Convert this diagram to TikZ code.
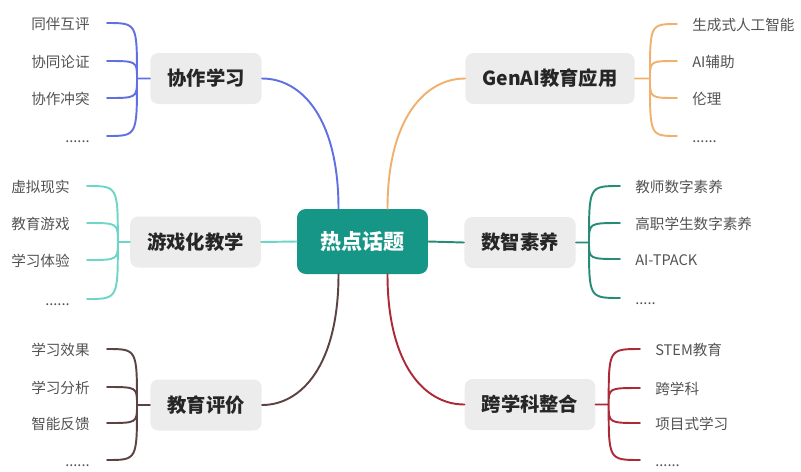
\documentclass[tikz,border=0pt]{standalone}
\usepackage{fontspec}
\setmainfont{Noto Sans CJK SC}
\usepackage{tikz}
\usetikzlibrary{positioning, calc}
\definecolor{hubteal}{RGB}{22,150,135}
\definecolor{boxgray}{RGB}{236,236,236}
\definecolor{lnblue}{RGB}{96,112,226}
\definecolor{lnorange}{RGB}{240,176,110}
\definecolor{lnmint}{RGB}{110,214,198}
\definecolor{lnteal}{RGB}{38,140,120}
\definecolor{lnbrown}{RGB}{92,66,66}
\definecolor{lnred}{RGB}{172,42,56}
\tikzset{
  hub/.style={rectangle, rounded corners=5pt, fill=hubteal, text=white,
              minimum width=2.62cm, minimum height=1.3cm, font=\fontsize{12}{14}\selectfont\bfseries},
  topic/.style={rectangle, rounded corners=4.5pt, fill=boxgray, text=black!85,
                inner xsep=0.34cm, minimum height=1.02cm, font=\fontsize{11}{13}\selectfont\bfseries},
  leafl/.style={anchor=east, inner ysep=0pt, inner xsep=0.34cm, text=black!68,
                text height=0.88em, text depth=0.12em, font=\fontsize{8.3}{10}\selectfont},
  leafr/.style={leafl, anchor=west, inner xsep=0.3cm},
  link/.style={line width=1.1pt, line cap=round},
}

\begin{document}
\begin{tikzpicture}[x=0.02cm, y=-0.02cm]
  \useasboundingbox (0,0) rectangle (801,471);
  \node[hub]   (hub)   at (362.5,241.5) {热点话题};
  \node[topic] (coop)  at (206,78.5)    {协作学习};
  \node[topic] (genai) at (550,78.5)    {GenAI教育应用};
  \node[topic] (game)  at (195.5,242)   {游戏化教学};
  \node[topic] (digi)  at (520,242.5)   {数智素养};
  \node[topic] (eval)  at (206,405)     {教育评价};
  \node[topic] (cross) at (530,404.5)   {跨学科整合};

  % main branches
  \draw[link, lnblue]   ($(hub.north)+(-24,0)$) .. controls +(0,-90) and +(40,0) .. (coop.east);
  \draw[link, lnorange] ($(hub.north)+(25,0)$)  .. controls +(0,-90) and +(-40,0) .. (genai.west);
  \draw[link, lnbrown]  ($(hub.south)+(-24,0)$) .. controls +(0,90) and +(40,0) .. (eval.east);
  \draw[link, lnred]    ($(hub.south)+(25,0)$)  .. controls +(0,90) and +(-40,0) .. (cross.west);
  \draw[link, lnmint]   (hub.west) -- (game.east);
  \draw[link, lnteal]   (hub.east) -- (digi.west);

  % 协作学习
  \coordinate (coopj) at ($(coop.west)+(-13,0)$);
  \node[leafl] (coop1) at (107,23)  {同伴互评};
  \node[leafl] (coop2) at (107,61)  {协同论证};
  \node[leafl] (coop3) at (107,98)  {协作冲突};
  \node[leafl] (coop4) at (107,136) {......};
  \draw[link, lnblue] (coop.west) -- (coopj)
    (coopj) .. controls (coopj |- coop1) .. (coop1.east)
    (coopj) .. controls (coopj |- coop2) .. (coop2.east)
    (coopj) .. controls (coopj |- coop3) .. (coop3.east)
    (coopj) .. controls (coopj |- coop4) .. (coop4.east);

  % GenAI教育应用
  \coordinate (genaij) at ($(genai.east)+(15,0)$);
  \node[leafr] (genai1) at (677,24)  {生成式人工智能};
  \node[leafr] (genai2) at (677,61)  {AI辅助};
  \node[leafr] (genai3) at (677,98)  {伦理};
  \node[leafr] (genai4) at (677,136) {......};
  \draw[link, lnorange] (genai.east) -- (genaij)
    (genaij) .. controls (genaij |- genai1) .. (genai1.west)
    (genaij) .. controls (genaij |- genai2) .. (genai2.west)
    (genaij) .. controls (genaij |- genai3) .. (genai3.west)
    (genaij) .. controls (genaij |- genai4) .. (genai4.west);

  % 游戏化教学
  \coordinate (gamej) at ($(game.west)+(-12,0)$);
  \node[leafl] (game1) at (87,186) {虚拟现实};
  \node[leafl] (game2) at (87,223) {教育游戏};
  \node[leafl] (game3) at (87,260) {学习体验};
  \node[leafl] (game4) at (87,299) {......};
  \draw[link, lnmint] (game.west) -- (gamej)
    (gamej) .. controls (gamej |- game1) .. (game1.east)
    (gamej) .. controls (gamej |- game2) .. (game2.east)
    (gamej) .. controls (gamej |- game3) .. (game3.east)
    (gamej) .. controls (gamej |- game4) .. (game4.east);

  % 数智素养
  \coordinate (digij) at ($(digi.east)+(13,0)$);
  \node[leafr] (digi1) at (620,186) {教师数字素养};
  \node[leafr] (digi2) at (620,223) {高职学生数字素养};
  \node[leafr] (digi3) at (620,259) {AI-TPACK};
  \node[leafr] (digi4) at (620,298) {.....};
  \draw[link, lnteal] (digi.east) -- (digij)
    (digij) .. controls (digij |- digi1) .. (digi1.west)
    (digij) .. controls (digij |- digi2) .. (digi2.west)
    (digij) .. controls (digij |- digi3) .. (digi3.west)
    (digij) .. controls (digij |- digi4) .. (digi4.west);

  % 教育评价
  \coordinate (evalj) at ($(eval.west)+(-13,0)$);
  \node[leafl] (eval1) at (107,349) {学习效果};
  \node[leafl] (eval2) at (107,387) {学习分析};
  \node[leafl] (eval3) at (107,423) {智能反馈};
  \node[leafl] (eval4) at (107,460) {......};
  \draw[link, lnbrown] (eval.west) -- (evalj)
    (evalj) .. controls (evalj |- eval1) .. (eval1.east)
    (evalj) .. controls (evalj |- eval2) .. (eval2.east)
    (evalj) .. controls (evalj |- eval3) .. (eval3.east)
    (evalj) .. controls (evalj |- eval4) .. (eval4.east);

  % 跨学科整合
  \coordinate (crossj) at ($(cross.east)+(13,0)$);
  \node[leafr] (cross1) at (640,349) {STEM教育};
  \node[leafr] (cross2) at (640,388) {跨学科};
  \node[leafr] (cross3) at (640,423) {项目式学习};
  \node[leafr] (cross4) at (640,460) {......};
  \draw[link, lnred] (cross.east) -- (crossj)
    (crossj) .. controls (crossj |- cross1) .. (cross1.west)
    (crossj) .. controls (crossj |- cross2) .. (cross2.west)
    (crossj) .. controls (crossj |- cross3) .. (cross3.west)
    (crossj) .. controls (crossj |- cross4) .. (cross4.west);
\end{tikzpicture}
\end{document}
